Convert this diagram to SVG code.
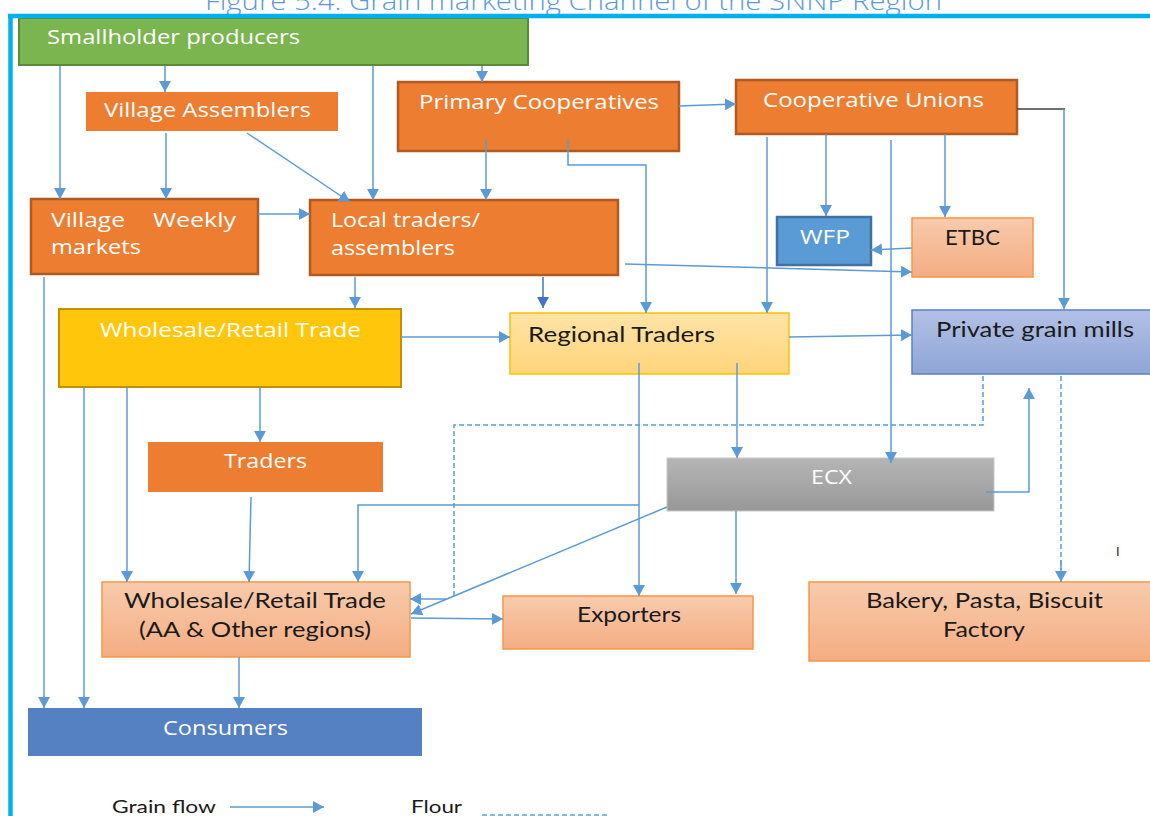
<svg xmlns="http://www.w3.org/2000/svg" width="1150" height="816" viewBox="0 0 1150 816">
  <style>
    .lbl { font-family: "Open Sans", "Noto Sans", sans-serif; font-size: 20px; fill: #ffffff; }
    .dark { font-family: Lato, "Open Sans", sans-serif; font-size: 21px; fill: #1a1a1a; }
    .legend { font-family: Lato, "Open Sans", sans-serif; font-size: 18px; fill: #1a1a1a; }
    .title { font-family: "Open Sans", "Noto Sans", sans-serif; font-weight: 300; font-size: 26px; fill: #5B9BD5; }
    .orange { fill: #ED7D31; }
    .orange-b { fill: #ED7D31; stroke: #AE5A21; stroke-width: 2.5; }
    .salmon { fill: url(#gSalmon); stroke: #F79646; stroke-width: 1.5; }
    .flow { fill: none; stroke: #5B9BD5; stroke-width: 1.5; }
    .flow-a { fill: none; stroke: #5B9BD5; stroke-width: 1.5; marker-end: url(#ah); }
    .flour { fill: none; stroke: #5B9BD5; stroke-width: 1.5; stroke-dasharray: 5 3; }
  </style>
  <defs>
    <marker id="ah" markerUnits="userSpaceOnUse" markerWidth="12" markerHeight="12" refX="11" refY="6" orient="auto">
      <path d="M0,0 L11,6 L0,12 z" fill="#5B9BD5"/>
    </marker>
    <marker id="ahDark" markerUnits="userSpaceOnUse" markerWidth="12" markerHeight="12" refX="11" refY="6" orient="auto">
      <path d="M0,0 L11,6 L0,12 z" fill="#4472C4"/>
    </marker>
    <linearGradient id="gSalmon" x1="0" y1="0" x2="0" y2="1">
      <stop offset="0" stop-color="#F8CBAD"/>
      <stop offset="1" stop-color="#F4AD82"/>
    </linearGradient>
    <linearGradient id="gGold" x1="0" y1="0" x2="0" y2="1">
      <stop offset="0" stop-color="#FFE4A6"/>
      <stop offset="1" stop-color="#FFD47C"/>
    </linearGradient>
    <linearGradient id="gMill" x1="0" y1="0" x2="0" y2="1">
      <stop offset="0" stop-color="#B3C0E6"/>
      <stop offset="1" stop-color="#8EA5D6"/>
    </linearGradient>
    <linearGradient id="gGray" x1="0" y1="0" x2="0" y2="1">
      <stop offset="0" stop-color="#B5B5B5"/>
      <stop offset="1" stop-color="#989898"/>
    </linearGradient>
  </defs>

  <rect width="1150" height="816" fill="#ffffff"/>

  <!-- caption above the frame -->
  <text class="title" x="205" y="10" textLength="737" lengthAdjust="spacingAndGlyphs">Figure 5.4. Grain marketing Channel of the SNNP Region</text>

  <!-- nodes -->
  <g id="smallholder">
    <rect x="19" y="18" width="509" height="47" fill="#7AB550" stroke="#5A8A3A" stroke-width="2"/>
    <text class="lbl" x="47" y="44" textLength="253" lengthAdjust="spacingAndGlyphs">Smallholder producers</text>
  </g>
  <g id="village-assemblers">
    <rect class="orange" x="86" y="92" width="252" height="39"/>
    <text class="lbl" x="104" y="117" textLength="207" lengthAdjust="spacingAndGlyphs">Village Assemblers</text>
  </g>
  <g id="primary-coops">
    <rect class="orange-b" x="398" y="82" width="281" height="69"/>
    <text class="lbl" x="419" y="109" textLength="240" lengthAdjust="spacingAndGlyphs">Primary Cooperatives</text>
  </g>
  <g id="coop-unions">
    <rect class="orange-b" x="736" y="80" width="281" height="54"/>
    <text class="lbl" x="763" y="107" textLength="221" lengthAdjust="spacingAndGlyphs">Cooperative Unions</text>
  </g>
  <g id="weekly-markets">
    <rect class="orange-b" x="31" y="199" width="227" height="75"/>
    <text class="lbl" x="51" y="227" textLength="74" lengthAdjust="spacingAndGlyphs">Village</text>
    <text class="lbl" x="153" y="227" textLength="83" lengthAdjust="spacingAndGlyphs">Weekly</text>
    <text class="lbl" x="51" y="254" textLength="90" lengthAdjust="spacingAndGlyphs">markets</text>
  </g>
  <g id="local-traders">
    <rect class="orange-b" x="310" y="200" width="308" height="75"/>
    <text class="lbl" x="331" y="227" textLength="149" lengthAdjust="spacingAndGlyphs">Local traders/</text>
    <text class="lbl" x="331" y="255" textLength="124" lengthAdjust="spacingAndGlyphs">assemblers</text>
  </g>
  <g id="wfp">
    <rect x="777" y="217" width="94" height="48" fill="#5B9BD5" stroke="#41719C" stroke-width="2.5"/>
    <text class="lbl" x="800" y="244" textLength="50" lengthAdjust="spacingAndGlyphs">WFP</text>
  </g>
  <g id="etbc">
    <rect class="salmon" x="912" y="218" width="121" height="59"/>
    <text class="dark" x="945" y="245" textLength="55" lengthAdjust="spacingAndGlyphs">ETBC</text>
  </g>
  <g id="wholesale-retail">
    <rect x="59" y="309" width="342" height="78" fill="#FFC60B" stroke="#BF9000" stroke-width="2"/>
    <text class="lbl" x="100" y="337" textLength="261" lengthAdjust="spacingAndGlyphs">Wholesale/Retail Trade</text>
  </g>
  <g id="regional-traders">
    <rect x="510" y="313" width="279" height="61" fill="url(#gGold)" stroke="#FFC000" stroke-width="1.5"/>
    <text class="dark" x="528" y="342" textLength="187" lengthAdjust="spacingAndGlyphs">Regional Traders</text>
  </g>
  <g id="grain-mills">
    <rect x="912" y="310" width="240" height="64" fill="url(#gMill)" stroke="#5B7FC8" stroke-width="1.5"/>
    <text class="dark" x="936" y="337" textLength="198" lengthAdjust="spacingAndGlyphs">Private grain mills</text>
  </g>
  <g id="traders">
    <rect class="orange" x="148" y="442" width="235" height="50"/>
    <text class="lbl" x="224" y="468" textLength="83" lengthAdjust="spacingAndGlyphs">Traders</text>
  </g>
  <g id="ecx">
    <rect x="667" y="458" width="327" height="53" fill="url(#gGray)" stroke="#C8C8C8" stroke-width="1"/>
    <text class="lbl" x="811" y="484" textLength="41" lengthAdjust="spacingAndGlyphs">ECX</text>
  </g>
  <g id="wholesale-aa">
    <rect class="salmon" x="102" y="582" width="308" height="75"/>
    <text class="dark" x="124" y="608" textLength="262" lengthAdjust="spacingAndGlyphs">Wholesale/Retail Trade</text>
    <text class="dark" x="139" y="637" textLength="232" lengthAdjust="spacingAndGlyphs">(AA &amp; Other regions)</text>
  </g>
  <g id="exporters">
    <rect class="salmon" x="503" y="596" width="250" height="53"/>
    <text class="dark" x="577" y="622" textLength="104" lengthAdjust="spacingAndGlyphs">Exporters</text>
  </g>
  <g id="bakery">
    <rect class="salmon" x="809" y="582" width="345" height="79"/>
    <text class="dark" x="866" y="608" textLength="237" lengthAdjust="spacingAndGlyphs">Bakery, Pasta, Biscuit</text>
    <text class="dark" x="943" y="637" textLength="82" lengthAdjust="spacingAndGlyphs">Factory</text>
  </g>
  <g id="consumers">
    <rect x="28" y="708" width="394" height="48" fill="#5580C1"/>
    <text class="lbl" x="163" y="735" textLength="125" lengthAdjust="spacingAndGlyphs">Consumers</text>
  </g>

  <!-- connectors -->
  <g id="connectors">
    <line class="flow-a" x1="60" y1="66" x2="60" y2="199"/>
    <line class="flow-a" x1="165" y1="66" x2="165" y2="92"/>
    <line class="flow-a" x1="373" y1="66" x2="373" y2="200"/>
    <line class="flow-a" x1="482" y1="66" x2="482" y2="82"/>
    <line class="flow-a" x1="166" y1="133" x2="166" y2="199"/>
    <line class="flow-a" x1="247" y1="133" x2="350" y2="202"/>
    <line class="flow-a" x1="486" y1="139" x2="486" y2="200"/>
    <path class="flow-a" d="M568,139 V165 H646 V313"/>
    <line class="flow-a" x1="679" y1="106" x2="736" y2="104"/>
    <line class="flow-a" x1="767" y1="137" x2="767" y2="313"/>
    <line class="flow-a" x1="826" y1="134" x2="826" y2="216"/>
    <line class="flow-a" x1="891" y1="140" x2="891" y2="463"/>
    <line class="flow-a" x1="945" y1="134" x2="945" y2="217"/>
    <line x1="1017" y1="109" x2="1065" y2="109" stroke="#404040" stroke-width="1.5"/>
    <line class="flow-a" x1="1064" y1="109" x2="1064" y2="309"/>
    <line class="flow-a" x1="258" y1="214" x2="310" y2="214"/>
    <line class="flow-a" x1="44" y1="277" x2="44" y2="708"/>
    <line class="flow-a" x1="355" y1="277" x2="355" y2="308"/>
    <line x1="543" y1="277" x2="543" y2="308" stroke="#4472C4" stroke-width="1.5" marker-end="url(#ahDark)"/>
    <line class="flow-a" x1="625" y1="264" x2="912" y2="272"/>
    <line class="flow-a" x1="912" y1="248" x2="871" y2="250"/>
    <line class="flow-a" x1="401" y1="337" x2="510" y2="337"/>
    <line class="flow-a" x1="789" y1="337" x2="912" y2="335"/>
    <line class="flow-a" x1="84" y1="387" x2="84" y2="708"/>
    <line class="flow-a" x1="127" y1="387" x2="127" y2="582"/>
    <line class="flow-a" x1="260" y1="387" x2="260" y2="442"/>
    <line class="flow-a" x1="251" y1="497" x2="249" y2="582"/>
    <line class="flow-a" x1="639" y1="363" x2="639" y2="596"/>
    <line class="flow-a" x1="737" y1="363" x2="737" y2="458"/>
    <path class="flow-a" d="M639,505 H358 V582"/>
    <line class="flow-a" x1="667" y1="507" x2="411" y2="614"/>
    <line class="flow-a" x1="736" y1="511" x2="736" y2="594"/>
    <path class="flow-a" d="M986,492 H1029 V388"/>
    <line class="flow-a" x1="411" y1="618" x2="503" y2="619"/>
    <line class="flow-a" x1="239" y1="657" x2="239" y2="708"/>
    <path class="flour" d="M983,376 V425 H454 V599"/>
    <line class="flow-a" x1="446" y1="599" x2="410" y2="599"/>
    <line class="flour" x1="1061" y1="376" x2="1061" y2="570"/>
    <line class="flow-a" x1="1061" y1="560" x2="1061" y2="582"/>
  </g>

  <!-- frame edges -->
  <line x1="8" y1="16" x2="1150" y2="16" stroke="#00B0F0" stroke-width="4.5"/>
  <line x1="10.5" y1="14" x2="10.5" y2="816" stroke="#00B0F0" stroke-width="4.5"/>

  <!-- key -->
  <g id="key">
    <text class="legend" x="112" y="813" textLength="104" lengthAdjust="spacingAndGlyphs">Grain flow</text>
    <line class="flow-a" x1="230" y1="807" x2="324" y2="807"/>
    <text class="legend" x="411" y="813" textLength="51" lengthAdjust="spacingAndGlyphs">Flour</text>
    <line class="flour" x1="482" y1="815" x2="607" y2="815"/>
  </g>

  <text x="1116" y="556" font-family="Liberation Sans, sans-serif" font-size="13" fill="#1a1a1a">I</text>
</svg>
